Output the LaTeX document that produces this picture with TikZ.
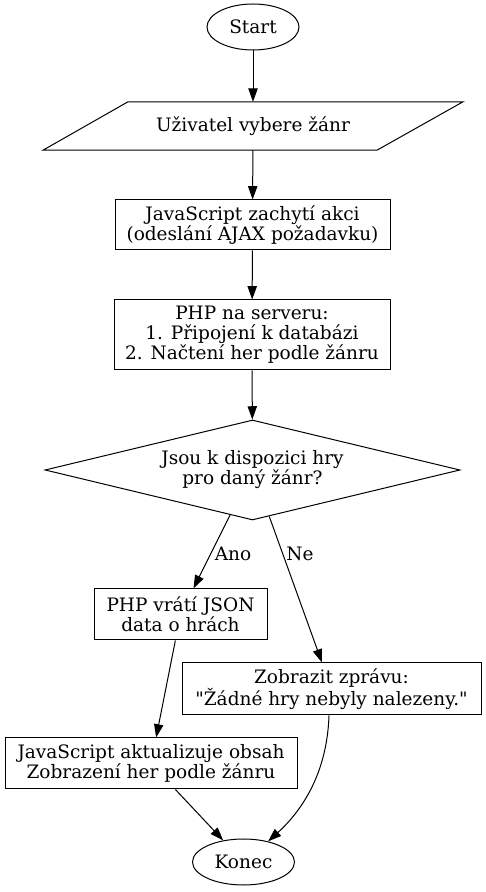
\documentclass[tikz,border=0pt]{standalone}
\usepackage{fontspec}
\setmainfont[Ligatures=TeXOff]{DejaVu Serif}
\usetikzlibrary{shapes.geometric,arrows.meta}
\tikzset{
  every node/.style={font=\fontsize{18.5}{20}\selectfont},
  box/.style={draw, rectangle, line width=1pt, align=center, inner sep=0pt},
  oval/.style={draw, ellipse, line width=1pt, inner sep=0pt},
  paratext/.style={rectangle, inner sep=0pt, align=center},
  outline/.style={line width=1pt, line join=miter},
  decision/.style={draw, diamond, shape aspect=4.15, line width=1pt, inner sep=0pt, align=center},
  arr/.style={-{Triangle[length=13.3pt,width=9.3pt]}, line width=1pt},
  elabel/.style={inner sep=0pt}
}
\begin{document}
\begin{tikzpicture}[x=1pt,y=1pt]
\useasboundingbox (0,0) rectangle (486,892);
\node[oval, minimum width=92pt, minimum height=46pt] (start) at (253,865) {Start};
\node[paratext, minimum width=420pt, minimum height=48pt] (choose) at (253,766) {Uživatel vybere žánr};
\draw[outline] ([xshift=-125pt]choose.north) -- ([xshift=210pt]choose.north)
  -- ([xshift=124pt]choose.south) -- ([xshift=-210pt]choose.south) -- cycle;
\node[box, minimum width=275pt, minimum height=50pt] (js) at (252.5,667) {JavaScript zachytí akci\\(odeslání AJAX požadavku)};
\node[box, minimum width=276pt, minimum height=70pt] (php) at (252,557) {PHP na serveru:\\1. Připojení k databázi\\2. Načtení her podle žánru};
\node[decision, minimum width=415pt, minimum height=100pt] (dia) at (252.5,422) {Jsou k dispozici hry\\pro daný žánr?};
\node[box, minimum width=173pt, minimum height=51pt] (json) at (180.5,277.5) {PHP vrátí JSON\\data o hrách};
\node[box, minimum width=299pt, minimum height=52pt] (msg) at (331.5,203) {Zobrazit zprávu:\\"Žádné hry nebyly nalezeny."};
\node[box, minimum width=292pt, minimum height=51pt] (upd) at (151,128.5) {JavaScript aktualizuje obsah\\Zobrazení her podle žánru};
\node[oval, minimum width=102pt, minimum height=46pt] (end) at (243.5,30) {Konec};

\draw[arr] (start) -- (choose);
\draw[arr] (choose) -- (js);
\draw[arr] (js) -- (php);
\draw[arr] (php) -- (dia);
\draw[arr] (dia) -- (json);
\draw[arr] (dia) -- (msg);
\draw[arr] (json) -- (upd);
\draw[arr] (upd) -- (end);
\draw[arr] ([xshift=-2.5pt]msg.south) .. controls +(-2,-60) and +(32,29) .. (end.40);

\node[elabel] (ano) at (233,338) {Ano};
\node[elabel] (ne) at (300,338) {Ne};
\end{tikzpicture}
\end{document}
